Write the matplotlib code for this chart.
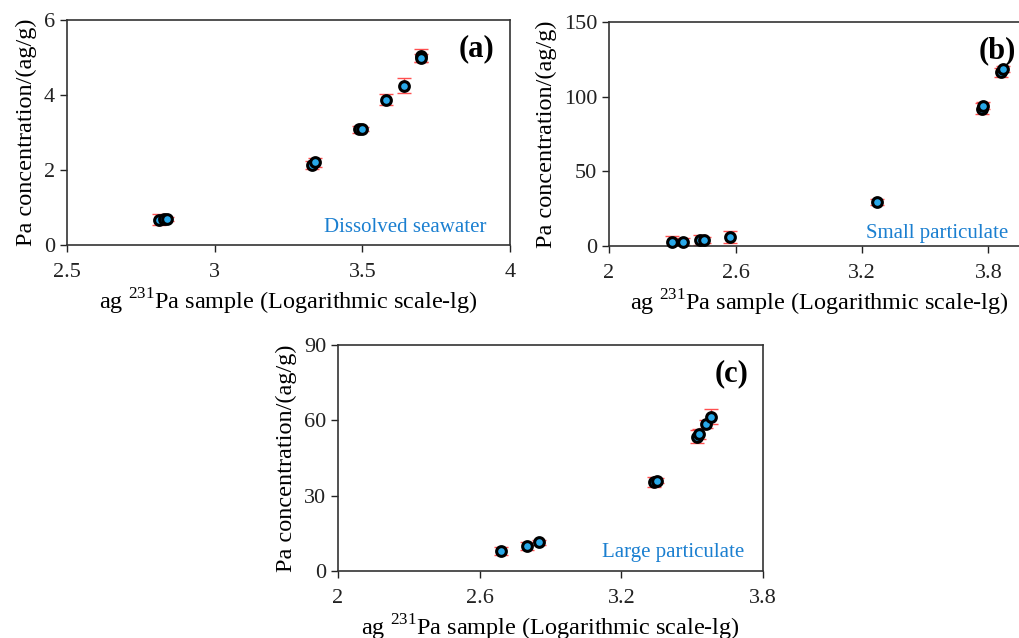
import matplotlib
matplotlib.use("Agg")
import matplotlib.pyplot as plt

plt.rcParams['font.family'] = ['Liberation Serif', 'DejaVu Serif']
plt.rcParams['mathtext.fontset'] = 'custom'
plt.rcParams['mathtext.rm'] = 'Liberation Serif'

# (a) dissolved seawater
xa = [2.81, 2.83, 2.84, 3.33, 3.34, 3.49, 3.50, 3.58, 3.64, 3.70, 3.70]
ya = [0.67, 0.69, 0.70, 2.13, 2.20, 3.08, 3.10, 3.87, 4.25, 5.05, 4.98]
ea = [0.15, 0.05, 0.05, 0.10, 0.12, 0.10, 0.05, 0.15, 0.20, 0.18, 0.10]

# (b) small particulate
xb = [2.30, 2.35, 2.43, 2.45, 2.575, 3.27, 3.77, 3.775, 3.86, 3.87]
yb = [3.0, 3.0, 4.0, 4.0, 6.0, 29.5, 92.0, 94.0, 116.5, 118.5]
eb = [3.5, 2.5, 3.5, 2.0, 4.0, 2.0, 3.5, 2.5, 3.0, 2.0]

# (c) large particulate
xc = [2.69, 2.80, 2.85, 3.34, 3.35, 3.52, 3.53, 3.56, 3.58]
yc = [8.0, 10.0, 11.5, 35.5, 36.0, 53.5, 54.5, 58.5, 61.5]
ec = [1.5, 1.5, 1.0, 2.0, 1.0, 2.5, 2.0, 1.5, 3.0]

xlabel = "ag $^{231}$Pa sample (Logarithmic scale-lg)"
ylabel = "Pa concentration/(ag/g)"

fig = plt.figure(figsize=(10.19, 6.38), dpi=100)

panels = [
    ([0.0657, 0.616, 0.4348, 0.3527], xa, ya, ea, (2.5, 4), [2.5, 3, 3.5, 4], ['2.5', '3', '3.5', '4'],
     (0, 6), [0, 2, 4, 6], "(a)", "Dissolved seawater", (0.965, 0.84), (0.948, 0.058)),
    ([0.5977, 0.6144, 0.4137, 0.3511], xb, yb, eb, (2, 4), [2, 2.6, 3.2, 3.8], ['2', '2.6', '3.2', '3.8'],
     (0, 150), [0, 50, 100, 150], "(b)", "Small particulate", (0.965, 0.84), (0.946, 0.036)),
    ([0.3317, 0.105, 0.4171, 0.3542], xc, yc, ec, (2, 3.8), [2, 2.6, 3.2, 3.8], ['2', '2.6', '3.2', '3.8'],
     (0, 90), [0, 30, 60, 90], "(c)", "Large particulate", (0.965, 0.84), (0.955, 0.06)),
]

for pos, x, y, e, xl, xt, xtl, yl, yt, tag, name, tagpos, namepos in panels:
    ax = fig.add_axes(pos)
    ax.errorbar(x, y, yerr=e, fmt='none', ecolor='#ff5050', elinewidth=1, capsize=5, capthick=1, zorder=2)
    ax.plot(x, y, 'o', ms=7, mfc='#29a8e8', mec='black', mew=2.2, zorder=3, clip_on=False)
    ax.set_xlim(xl)
    ax.set_ylim(yl)
    ax.set_xticks(xt)
    ax.set_xticklabels(xtl)
    ax.set_yticks(yt)
    ax.tick_params(direction='out', length=5, width=1, labelsize=16, colors='#222222')
    ax.tick_params(axis='x', pad=8)
    for s in ax.spines.values():
        s.set_color('#333333')
        s.set_linewidth(1.2)
    ax.set_xlabel(xlabel, fontsize=17.5, labelpad=3)
    ax.set_ylabel(ylabel, fontsize=17.5, labelpad=5)
    ax.text(tagpos[0], tagpos[1], tag, transform=ax.transAxes, fontsize=22, fontweight='bold', ha='right')
    ax.text(namepos[0], namepos[1], name, transform=ax.transAxes, fontsize=15, color='#1a7fd0', ha='right')

fig.savefig("out.png", dpi=100)
